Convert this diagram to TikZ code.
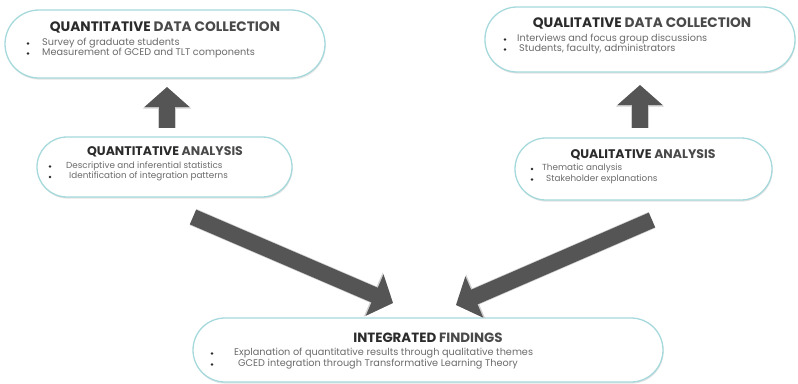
\documentclass[tikz,border=0pt]{standalone}
\usepackage{fontspec}
\setmainfont{Poppins}
\usetikzlibrary{arrows.meta,shadows}
\definecolor{rim}{HTML}{A6D9DC}
\definecolor{ink}{HTML}{2B2B2B}
\definecolor{inksoft}{HTML}{4A4A4A}
\definecolor{body}{HTML}{6B6B6B}
\definecolor{arrowfill}{HTML}{555555}
\tikzset{
  stadium/.style={draw=rim, line width=1.3pt, fill=white, rounded corners=#1,
    drop shadow={opacity=0.22, shadow xshift=0.6pt, shadow yshift=-1.6pt}},
  heading/.style={font=\bfseries\fontsize{13.7}{15}\selectfont, anchor=center, inner sep=0pt},
  smallheading/.style={heading, font=\bfseries\fontsize{12.5}{14}\selectfont},
  item/.style={font=\fontsize{9.7}{10}\selectfont, text=body, anchor=west, inner sep=0pt},
  smallitem/.style={item, font=\fontsize{8.8}{10}\selectfont},
  dot/.style={circle, fill=ink, inner sep=0pt, minimum size=2.6pt},
  blockarrow/.style={line width=16pt, arrowfill, -{Triangle[width=44pt,length=20pt]},
    preaction={draw=black!18, line width=17.5pt, -{Triangle[width=47pt,length=21.5pt]}}}
}
\newcommand{\headtext}[2]{\textcolor{ink}{#1} \textcolor{inksoft}{#2}}
\begin{document}
\begin{tikzpicture}[x=1pt,y=-1pt]
\useasboundingbox (0,0) rectangle (798,383);

% boxes
\node[stadium=34pt, minimum width=320pt, minimum height=68pt] (qdc) at (165,44) {};
\node[stadium=32pt, minimum width=310pt, minimum height=65pt] (ldc) at (640,39.5) {};
\node[stadium=30pt, minimum width=255pt, minimum height=60pt] (qan) at (164.5,167) {};
\node[stadium=31pt, minimum width=257pt, minimum height=62pt] (lan) at (643.5,169) {};
\node[stadium=32pt, minimum width=470pt, minimum height=64pt] (int) at (428,350) {};

% quantitative data collection
\node[heading] (qdcT) at (165,27) {\headtext{QUANTITATIVE}{DATA COLLECTION}};
\node[dot] (qdcD1) at (28,43.5) {};
\node[item] (qdcI1) at (42,43) {Survey of graduate students};
\node[dot] (qdcD2) at (28,53.5) {};
\node[item] (qdcI2) at (42,53) {Measurement of GCED and TLT components};

% qualitative data collection
\node[heading] (ldcT) at (642,23) {\headtext{QUALITATIVE}{DATA COLLECTION}};
\node[dot] (ldcD1) at (505,39.5) {};
\node[item] (ldcI1) at (517,39) {Interviews and focus group discussions};
\node[dot] (ldcD2) at (505,49.5) {};
\node[item] (ldcI2) at (519,49) {Students, faculty, administrators};

% quantitative analysis
\node[smallheading] (qanT) at (165,152) {\headtext{QUANTITATIVE}{ANALYSIS}};
\node[dot] (qanD1) at (50,166.5) {};
\node[smallitem] (qanI1) at (66,166) {Descriptive and inferential statistics};
\node[dot] (qanD2) at (50,177) {};
\node[smallitem] (qanI2) at (69,176.5) {Identification of integration patterns};

% qualitative analysis
\node[smallheading] (lanT) at (643,155) {\headtext{QUALITATIVE}{ANALYSIS}};
\node[dot] (lanD1) at (532,169) {};
\node[smallitem] (lanI1) at (542,168.5) {Thematic analysis};
\node[dot] (lanD2) at (532,179.5) {};
\node[smallitem] (lanI2) at (546,179) {Stakeholder explanations};

% integrated findings
\node[heading, font=\bfseries\fontsize{13.4}{15}\selectfont] (intT) at (428,338) {\headtext{INTEGRATED}{FINDINGS}};
\node[dot] (intD1) at (212,353.5) {};
\node[item] (intI1) at (234,353) {Explanation of quantitative results through qualitative themes};
\node[dot] (intD2) at (212,364.5) {};
\node[item] (intI2) at (238,364) {GCED integration through Transformative Learning Theory};

% arrow end points
\coordinate (upLs) at (167,128);
\coordinate (upLe) at (167,87);
\coordinate (upRs) at (640,128);
\coordinate (upRe) at (640,85);
\coordinate (dLs) at (193,217);
\coordinate (dLe) at (393,303);
\coordinate (dRs) at (652,220);
\coordinate (dRe) at (456,305);

\draw[blockarrow] (upLs) -- (upLe);
\draw[blockarrow] (upRs) -- (upRe);
\draw[blockarrow] (dLs) -- (dLe);
\draw[blockarrow] (dRs) -- (dRe);
\end{tikzpicture}
\end{document}
